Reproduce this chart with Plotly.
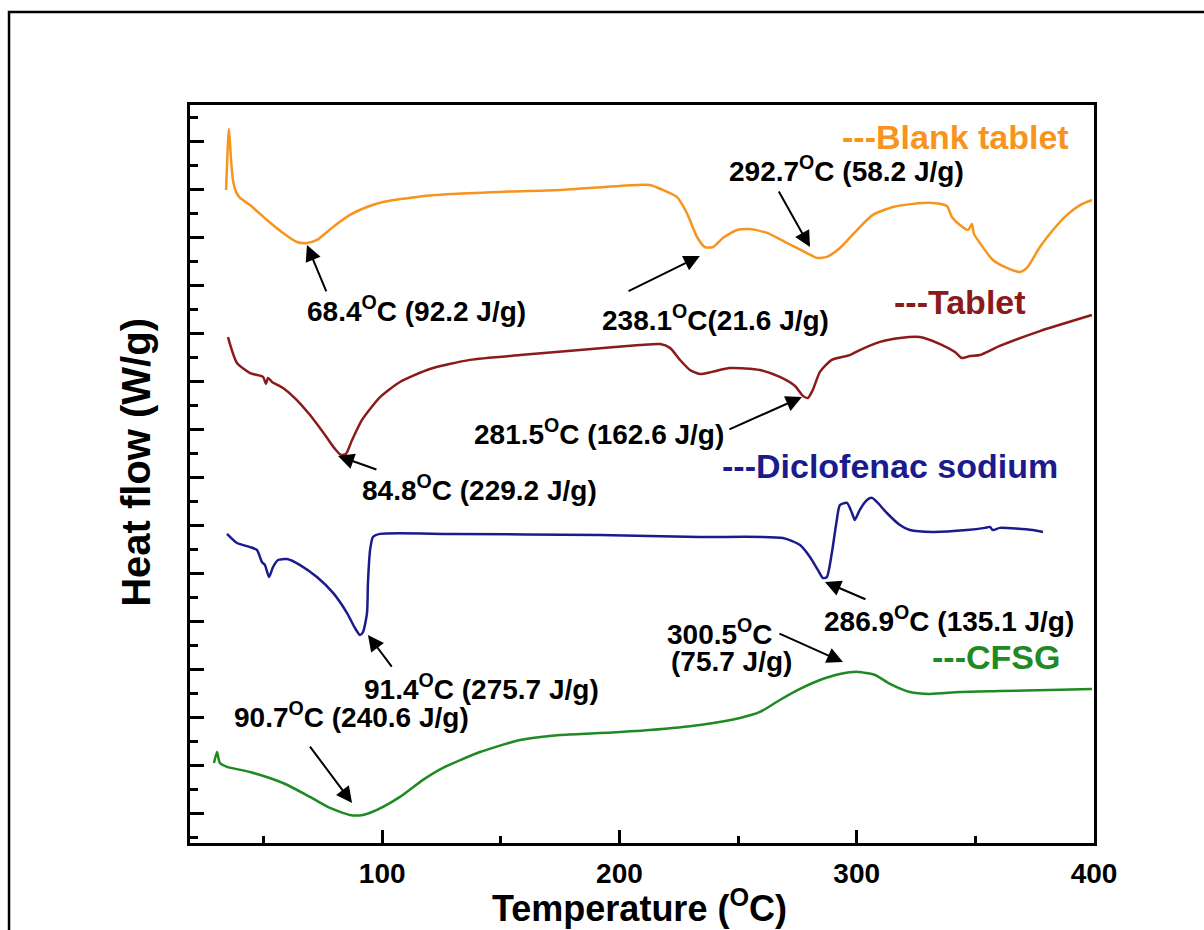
import plotly.graph_objects as go

# ---------------- data (heat flow in arbitrary offset units) -------------
blank_T = [34.2, 35.4, 36.3, 37.1, 38.4, 40.1, 44.3, 51.4, 58.2, 64.1, 68.3, 72.5, 79.3, 86.4, 93.6,
           100.3, 114.7, 128.6, 149.6, 174.9, 200.2, 212.8, 218.3, 224.2, 228.4, 232.7, 236.0, 239.4,
           243.6, 249.5, 255.0, 262.2, 270.6, 279.0, 283.2, 287.4, 292.9, 300.1, 306.8, 315.3, 323.7,
           332.1, 338.0, 340.1, 343.5, 346.9, 348.5, 349.4, 351.9, 357.4, 363.3, 368.8, 371.7, 377.2,
           382.7, 388.6, 394.1, 399.1]
blank_Y = [27.96, 30.5, 29.21, 28.38, 27.88, 27.63, 27.33, 26.71, 26.17, 25.79, 25.75, 25.88, 26.42,
           26.92, 27.25, 27.46, 27.67, 27.79, 27.88, 27.96, 28.13, 28.17, 27.96, 27.67, 27.0, 26.0,
           25.58, 25.58, 25.96, 26.29, 26.33, 26.17, 25.75, 25.33, 25.13, 25.17, 25.54, 26.29, 26.92,
           27.25, 27.38, 27.42, 27.29, 26.83, 26.5, 26.29, 26.54, 26.13, 25.75, 25.04, 24.71, 24.54,
           24.71, 25.58, 26.29, 26.92, 27.33, 27.54]

tablet_T = [35.0, 38.8, 44.3, 49.8, 51.0, 51.9, 53.6, 58.2, 63.2, 69.6, 75.9, 80.1, 82.6, 84.7, 87.3,
            91.5, 99.1, 107.5, 120.1, 137.0, 158.1, 183.3, 208.6, 217.1, 221.3, 225.5, 229.7, 233.9,
            239.0, 246.6, 259.2, 267.6, 274.0, 277.3, 279.4, 281.5, 284.5, 289.5, 297.1, 301.3, 309.8,
            318.2, 326.6, 335.1, 341.4, 344.3, 347.7, 351.9, 360.3, 377.2, 399.1]
tablet_Y = [21.83, 20.75, 20.33, 20.17, 19.88, 20.13, 19.96, 19.71, 19.29, 18.58, 17.75, 17.17, 16.92,
            16.96, 17.54, 18.38, 19.33, 19.96, 20.5, 20.88, 21.08, 21.29, 21.5, 21.54, 21.38, 20.88,
            20.46, 20.29, 20.38, 20.54, 20.46, 20.17, 19.79, 19.38, 19.29, 19.63, 20.38, 20.88, 21.08,
            21.29, 21.63, 21.79, 21.83, 21.54, 21.21, 20.96, 21.04, 21.08, 21.46, 22.08, 22.75]

diclo_T = [34.6, 38.8, 44.3, 47.2, 49.3, 50.6, 52.3, 54.0, 56.1, 59.9, 65.4, 72.5, 79.3, 85.2, 88.5,
           90.6, 91.9, 93.6, 94.0, 94.9, 96.1, 99.1, 128.6, 191.8, 233.9, 268.9, 276.1, 280.3, 283.6,
           285.8, 287.4, 289.5, 291.6, 292.9, 295.9, 298.0, 299.2, 301.3, 304.3, 306.4, 308.5, 312.7,
           318.2, 322.4, 332.1, 346.4, 354.0, 356.1, 357.4, 360.3, 374.2, 378.5]
diclo_Y = [13.63, 13.25, 13.08, 12.96, 12.46, 12.33, 11.83, 12.25, 12.54, 12.58, 12.33, 11.83, 11.17,
           10.33, 9.71, 9.42, 9.54, 10.33, 11.58, 12.96, 13.5, 13.63, 13.63, 13.58, 13.5, 13.46, 13.17,
           12.67, 12.13, 11.79, 11.83, 12.83, 14.21, 14.83, 14.92, 14.5, 14.21, 14.63, 15.04, 15.13,
           14.96, 14.5, 14.0, 13.79, 13.71, 13.79, 13.88, 13.92, 13.79, 13.88, 13.79, 13.71]

cfsg_T = [29.1, 30.4, 31.6, 34.6, 44.3, 58.2, 69.6, 78.0, 86.4, 91.9, 97.8, 107.5, 117.2, 125.6, 141.2,
          158.1, 174.9, 191.8, 212.8, 233.9, 250.8, 259.2, 267.6, 276.1, 284.5, 292.9, 300.5, 307.7,
          314.0, 322.4, 330.8, 343.5, 360.3, 381.4, 399.1]
cfsg_Y = [4.08, 4.54, 4.08, 3.92, 3.71, 3.25, 2.67, 2.21, 1.92, 1.92, 2.13, 2.67, 3.38, 3.88, 4.54,
          5.04, 5.25, 5.33, 5.46, 5.67, 5.96, 6.21, 6.71, 7.17, 7.54, 7.79, 7.88, 7.75, 7.38, 7.04,
          6.96, 7.04, 7.08, 7.13, 7.17]

series_names = ["Blank tablet", "Tablet", "Diclofenac sodium", "CFSG"]
series_colors = ["#F7941D", "#8B1A1A", "#1B1B8C", "#1F8A24"]

# labels: (text, T_left, Y)
peak_labels = [
    ("68.4<sup>O</sup>C (92.2 J/g)", 67.5, 23.0),
    ("238.1<sup>O</sup>C(21.6 J/g)", 191.8, 22.63),
    ("292.7<sup>O</sup>C (58.2 J/g)", 245.3, 28.83),
    ("281.5<sup>O</sup>C (162.6 J/g)", 137.8, 17.88),
    ("84.8<sup>O</sup>C (229.2 J/g)", 90.6, 15.54),
    ("286.9<sup>O</sup>C (135.1 J/g)", 285.3, 10.08),
    ("300.5<sup>O</sup>C", 219.2, 9.54),
    ("(75.7 J/g)", 220.9, 8.33),
    ("91.4<sup>O</sup>C (275.7 J/g)", 91.5, 7.25),
    ("90.7<sup>O</sup>C (240.6 J/g)", 36.7, 6.08),
]
series_label_pos = [(292.9, 30.17), (314.8, 23.29), (242.3, 16.46), (330.8, 8.5)]

# arrows: (head_T, head_Y, tail_T, tail_Y)
arrows = [
    (68.3, 25.67, 76.7, 23.67),
    (233.9, 25.21, 203.2, 23.71),
    (280.3, 25.58, 266.8, 27.96),
    (81.4, 16.88, 98.2, 16.29),
    (276.9, 19.33, 245.7, 17.96),
    (286.6, 11.63, 304.3, 10.88),
    (294.2, 8.29, 266.8, 9.5),
    (94.0, 9.42, 104.5, 8.04),
    (87.3, 2.42, 69.1, 4.83),
]

x_ticks = [100, 200, 300, 400]

FONT = "Arial, Liberation Sans, sans-serif"

fig = go.Figure()
for T, Y, name, col in zip([blank_T, tablet_T, diclo_T, cfsg_T],
                           [blank_Y, tablet_Y, diclo_Y, cfsg_Y],
                           series_names, series_colors):
    fig.add_trace(go.Scatter(x=T, y=Y, mode="lines", name=name,
                             line=dict(color=col, width=2.5, shape="spline", smoothing=0.6)))

ann = []
for txt, tx, ty in peak_labels:
    ann.append(dict(x=tx, y=ty, xref="x", yref="y", text="<b>" + txt + "</b>", showarrow=False,
                    xanchor="left", yanchor="middle", font=dict(family=FONT, size=28, color="black")))
for (tx, ty), name, col in zip(series_label_pos, series_names, series_colors):
    ann.append(dict(x=tx, y=ty, xref="x", yref="y", text="<b>---" + name + "</b>", showarrow=False,
                    xanchor="left", yanchor="middle", font=dict(family=FONT, size=34, color=col)))
for hx, hy, tx, ty in arrows:
    ann.append(dict(x=hx, y=hy, ax=tx, ay=ty, xref="x", yref="y", axref="x", ayref="y", text="",
                    showarrow=True, arrowhead=2, arrowsize=1.6, arrowwidth=2, arrowcolor="black",
                    standoff=0, startstandoff=0))
# axis titles
ann.append(dict(x=0.497, y=-0.086, xref="paper", yref="paper", text="<b>Temperature (<sup>O</sup>C)</b>",
                showarrow=False, xanchor="center", yanchor="middle",
                font=dict(family=FONT, size=36, color="black")))
ann.append(dict(x=-0.059, y=0.516, xref="paper", yref="paper", text="<b>Heat flow (W/g)</b>",
                showarrow=False, xanchor="center", yanchor="middle", textangle=-90,
                font=dict(family=FONT, size=40, color="black")))

fig.update_layout(
    width=1204, height=930,
    margin=dict(l=190, r=110, t=105, b=87),
    paper_bgcolor="white", plot_bgcolor="white",
    showlegend=False,
    annotations=ann,
    shapes=[dict(type="rect", xref="paper", yref="paper", x0=-0.2002, x1=1.3, y0=-0.3, y1=1.126,
                 line=dict(color="black", width=2.5), layer="below")],
)
fig.update_xaxes(range=[19, 400], tickvals=x_ticks, ticktext=["<b>%d</b>" % v for v in x_ticks],
                 showline=True, linecolor="black", linewidth=3, mirror=True,
                 ticks="inside", ticklen=13, tickwidth=3, tickcolor="black",
                 minor=dict(dtick=50, tick0=0, ticks="inside", ticklen=7, tickwidth=3, tickcolor="black"),
                 showgrid=False, zeroline=False, ticklabelstandoff=3,
                 tickfont=dict(family=FONT, size=28, color="black"))
fig.update_yaxes(range=[0.75, 31.5], dtick=2, tick0=0, showticklabels=False,
                 showline=True, linecolor="black", linewidth=3, mirror=True,
                 ticks="inside", ticklen=14, tickwidth=3, tickcolor="black",
                 minor=dict(dtick=1, tick0=0, ticks="inside", ticklen=8, tickwidth=3, tickcolor="black"),
                 showgrid=False, zeroline=False)

fig.write_html("out.html")
